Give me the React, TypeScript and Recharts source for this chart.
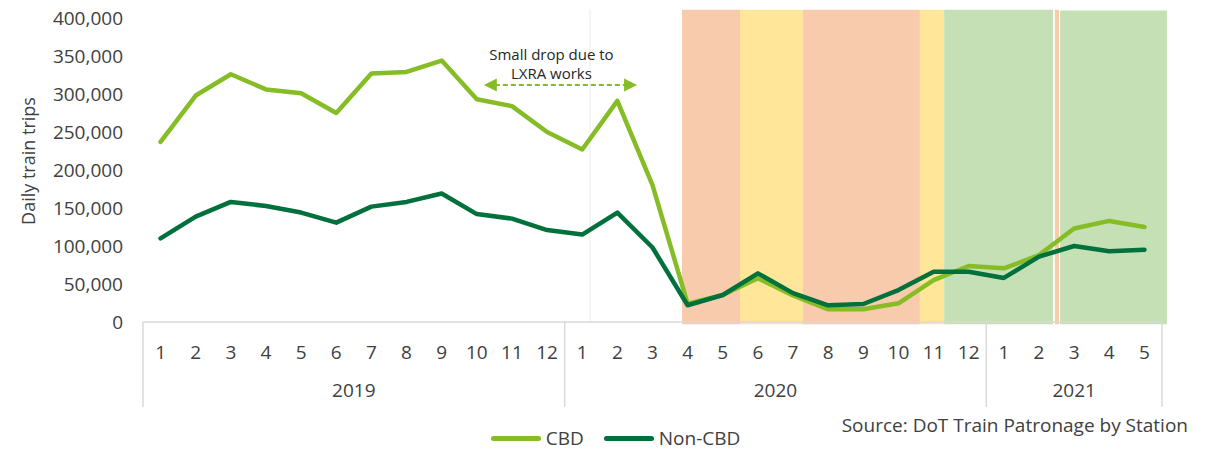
import { Legend, Line, LineChart, ReferenceArea, ReferenceLine, XAxis, YAxis } from "recharts";

const monthLabels = ["1", "2", "3", "4", "5", "6", "7", "8", "9", "10", "11", "12", "1", "2", "3", "4", "5", "6", "7", "8", "9", "10", "11", "12", "1", "2", "3", "4", "5"];
const yearLabels = ["2019", "2020", "2021"];
const monthsPerYear = [12, 12, 5];

const cbdTrips = [237000, 298000, 326000, 306000, 301000, 275000, 327000, 329000, 344000, 293000, 284000, 250000, 227000, 291000, 180000, 24000, 35500, 57500, 35000, 16700, 16700, 24600, 55000, 73700, 70600, 88000, 123000, 133000, 125000];
const nonCbdTrips = [110000, 138600, 158000, 152600, 144000, 130700, 151800, 158000, 169000, 142000, 136000, 121000, 115000, 144000, 98000, 22000, 35500, 64000, 38000, 22000, 23700, 42000, 66000, 66000, 58000, 86000, 100000, 93000, 95000];

const yTicks = [0, 50000, 100000, 150000, 200000, 250000, 300000, 350000, 400000];

// restriction periods, in months counted from Jan 2019
const phaseStart = [15.34, 16.99, 18.78, 22.11, 22.8, 25.95, 26.1];
const phaseEnd = [16.99, 18.78, 22.11, 22.8, 25.9, 26.07, 29.14];
const phaseLevel = ["red", "yellow", "red", "yellow", "green", "red", "green"];
const phaseTop = [411000, 411000, 411000, 411000, 411000, 411000, 410000];

const lxraFrom = 9.7;
const lxraTo = 14.06;
const lxraLevel = 312000;
const markerLine = 12.72;

const CBD_COLOR = "#86bc25";
const NON_CBD_COLOR = "#00703c";
const TEXT = "#404040";
const FONT = "'Open Sans', sans-serif";

const levelColor: Record<string, string> = {
  red: "#f8cbad",
  yellow: "#ffe699",
  green: "#c5e0b4",
};

const data = monthLabels.map((m, i) => ({
  x: i + 0.5,
  month: m,
  cbd: cbdTrips[i],
  nonCbd: nonCbdTrips[i],
}));

const yearBounds: number[] = [0];
const yearCentres: number[] = [];
monthsPerYear.forEach((n, i) => {
  yearCentres.push(yearBounds[i] + n / 2);
  yearBounds.push(yearBounds[i] + n);
});
const yearTicks = [...yearBounds, ...yearCentres].sort((a, b) => a - b);

const MONTH_AXIS_H = 50;
const YEAR_AXIS_H = 54;
const LEGEND_H = 24;

function MonthTick(props: any) {
  const { x, y, payload } = props;
  return (
    <text x={x} y={y + 37} textAnchor="middle" fill={TEXT} fontSize={19} fontFamily={FONT}>
      {monthLabels[Math.floor(payload.value)]}
    </text>
  );
}

function YearTick(props: any) {
  const { x, y, payload } = props;
  const b = yearBounds.indexOf(payload.value);
  if (b >= 0) {
    return <line x1={x} x2={x} y1={y - MONTH_AXIS_H} y2={y + 35} stroke="#d9d9d9" strokeWidth={1.5} />;
  }
  const c = yearCentres.indexOf(payload.value);
  return (
    <text x={x} y={y + 25} textAnchor="middle" fill={TEXT} fontSize={19} fontFamily={FONT}>
      {yearLabels[c]}
    </text>
  );
}

function LxraArrow(props: any) {
  const { x1, y1, x2 } = props;
  const mid = (x1 + x2) / 2;
  return (
    <g>
      <line x1={x1 + 11} x2={x2 - 11} y1={y1} y2={y1} stroke={CBD_COLOR} strokeWidth={2} strokeDasharray="5 3" />
      <polygon points={`${x1},${y1} ${x1 + 13},${y1 - 6.5} ${x1 + 13},${y1 + 6.5}`} fill={CBD_COLOR} />
      <polygon points={`${x2},${y1} ${x2 - 13},${y1 - 6.5} ${x2 - 13},${y1 + 6.5}`} fill={CBD_COLOR} />
      <text x={mid - 9} y={y1 - 31} textAnchor="middle" dominantBaseline="central" fontSize={15} fontFamily={FONT} fill="#262626">
        Small drop due to
      </text>
      <text x={mid - 9} y={y1 - 12} textAnchor="middle" dominantBaseline="central" fontSize={15} fontFamily={FONT} fill="#262626">
        LXRA works
      </text>
    </g>
  );
}

function renderYLabel(props: any) {
  const vb = props.viewBox;
  const cx = vb.x - 35;
  const cy = vb.y + vb.height / 2 - 9;
  return (
    <text x={cx} y={cy} transform={`rotate(-90 ${cx} ${cy})`} textAnchor="middle" dominantBaseline="central" fontSize={18} fontFamily={FONT} fill={TEXT}>
      Daily train trips
    </text>
  );
}

function renderLegend() {
  const items = [
    { name: "CBD", color: CBD_COLOR },
    { name: "Non-CBD", color: NON_CBD_COLOR },
  ];
  return (
    <div style={{ display: "flex", justifyContent: "center", alignItems: "center", height: LEGEND_H, paddingLeft: 20, fontFamily: FONT, fontSize: 19, color: TEXT }}>
      {items.map((it, i) => (
        <div key={it.name} style={{ display: "flex", alignItems: "center", marginLeft: i ? 20 : 0 }}>
          <span style={{ display: "inline-block", width: 50, height: 5, borderRadius: 3, background: it.color, marginRight: 5 }} />
          <span style={{ lineHeight: `${LEGEND_H}px` }}>{it.name}</span>
        </div>
      ))}
    </div>
  );
}

export default function App() {
  return (
    <div style={{ position: "absolute", left: 0, top: 0, width: 1211, height: 450, background: "#fff" }}>
      <LineChart width={1211} height={450} data={data} margin={{ top: 18, right: 49, bottom: 0, left: 63 }}>
        <XAxis
          dataKey="x"
          type="number"
          domain={[0, 29]}
          ticks={data.map((d) => d.x)}
          interval={0}
          tick={<MonthTick />}
          tickLine={false}
          tickSize={0}
          tickMargin={0}
          height={MONTH_AXIS_H}
          axisLine={{ stroke: "#d9d9d9", strokeWidth: 1.5 }}
        />
        <XAxis
          xAxisId="year"
          dataKey="x"
          type="number"
          domain={[0, 29]}
          ticks={yearTicks}
          interval={0}
          tick={<YearTick />}
          tickLine={false}
          tickSize={0}
          tickMargin={0}
          height={YEAR_AXIS_H}
          axisLine={false}
        />
        <YAxis
          domain={[0, 400000]}
          ticks={yTicks}
          interval={0}
          width={80}
          axisLine={false}
          tickLine={false}
          tickSize={0}
          tickMargin={20}
          tickFormatter={(v) => Number(v).toLocaleString("en-US")}
          tick={{ fill: TEXT, fontSize: 19, fontFamily: FONT }}
          label={renderYLabel}
        />
        {phaseStart.map((s, i) => (
          <ReferenceArea
            key={i}
            x1={s}
            x2={phaseEnd[i]}
            y1={-3000}
            y2={phaseTop[i]}
            fill={levelColor[phaseLevel[i]]}
            fillOpacity={1}
            stroke="none"
            ifOverflow="visible"
          />
        ))}
        <ReferenceLine
          segment={[
            { x: markerLine, y: 0 },
            { x: markerLine, y: 411000 },
          ]}
          stroke="#ececec"
          strokeWidth={1}
          ifOverflow="visible"
        />
        <ReferenceLine
          segment={[
            { x: lxraFrom, y: lxraLevel },
            { x: lxraTo, y: lxraLevel },
          ]}
          shape={LxraArrow}
          ifOverflow="visible"
        />
        <Line
          dataKey="cbd"
          name="CBD"
          stroke={CBD_COLOR}
          strokeWidth={4.5}
          dot={false}
          type="linear"
          strokeLinejoin="round"
          strokeLinecap="round"
          isAnimationActive={false}
        />
        <Line
          dataKey="nonCbd"
          name="Non-CBD"
          stroke={NON_CBD_COLOR}
          strokeWidth={4.5}
          dot={false}
          type="linear"
          strokeLinejoin="round"
          strokeLinecap="round"
          isAnimationActive={false}
        />
        <Legend
          verticalAlign="bottom"
          content={renderLegend}
          wrapperStyle={{ left: 0, width: 1211, bottom: 0, height: LEGEND_H }}
        />
      </LineChart>
      <div
        style={{
          position: "absolute",
          right: 23,
          top: 412,
          fontFamily: FONT,
          fontSize: 19,
          lineHeight: "26px",
          color: TEXT,
          whiteSpace: "nowrap",
        }}
      >
        Source: DoT Train Patronage by Station
      </div>
    </div>
  );
}
